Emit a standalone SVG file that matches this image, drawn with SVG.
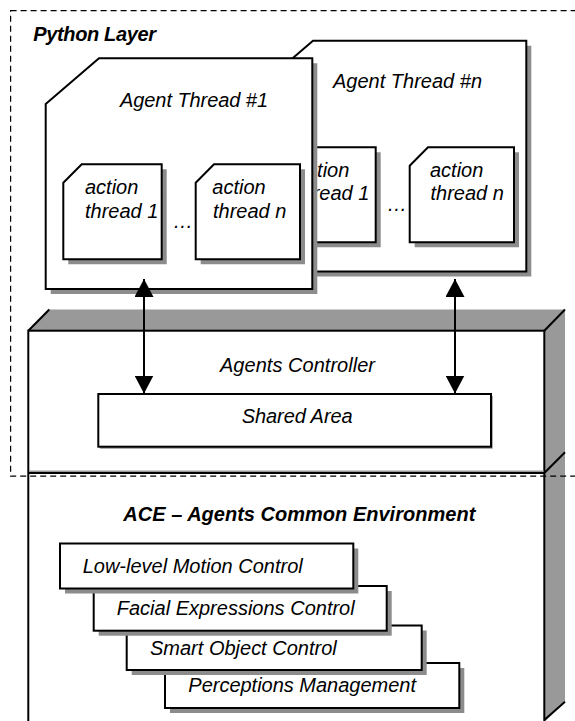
<svg xmlns="http://www.w3.org/2000/svg" width="575" height="721" viewBox="0 0 575 721">
<defs>
<style>
text{font-family:"Liberation Sans",Arial,sans-serif;font-style:italic;font-size:20px;fill:#000}
.b{font-weight:bold}
.box{fill:#fff;stroke:#000;stroke-width:2}
.sh{fill:#8c8c8c}
.face{fill:#999}
.edge{stroke:#000;stroke-width:2;fill:none}
.conn{stroke:#000;stroke-width:2;fill:none}
.dash{fill:none;stroke:#000;stroke-width:1.2;stroke-dasharray:6 4}
</style>
<marker id="ah" viewBox="0 0 18 19" refX="18" refY="9.5" markerWidth="18" markerHeight="19" markerUnits="userSpaceOnUse" orient="auto-start-reverse">
<path d="M0,0 L18,9.5 L0,19 Z" fill="#000"/>
</marker>
</defs>
<rect width="575" height="721" fill="#fff"/>

<g id="agents-controller">
<polygon class="face" points="28.3,330.7 49.3,309.5 565,309.5 565,702 544.3,722 544.3,330.7"/>
<rect class="box" x="28.3" y="330.7" width="516" height="400"/>
<line class="edge" x1="28.3" y1="330.7" x2="49.3" y2="309.5"/>
<line class="edge" x1="544.3" y1="330.7" x2="565" y2="309.5"/>
<line class="edge" x1="544.3" y1="473" x2="565" y2="452.3"/>
<line class="edge" x1="544.3" y1="720" x2="565" y2="701.7"/>
<line x1="29" y1="471.3" x2="543.5" y2="471.3" stroke="#999" stroke-width="1.5"/>
<line class="edge" x1="28.3" y1="473" x2="544.3" y2="473"/>
<text x="220" y="371.7" textLength="155">Agents Controller</text>
</g>

<g id="shared-area">
<rect class="sh" x="100" y="396" width="392.7" height="52.7"/>
<rect class="box" x="98.3" y="394" width="392.7" height="52.7"/>
<text x="241.7" y="423.3" textLength="111">Shared Area</text>
</g>

<g id="ace">
<text class="b" x="123.3" y="520.7" textLength="352">ACE – Agents Common Environment</text>
</g>

<g id="perceptions-management">
<rect class="sh" x="170" y="668" width="294.3" height="45"/>
<rect class="box" x="165" y="663" width="294.3" height="45"/>
<text x="188.3" y="692.3" textLength="227.7">Perceptions Management</text>
</g>
<g id="smart-object-control">
<rect class="sh" x="131.7" y="630.5" width="295" height="44.5"/>
<rect class="box" x="126.7" y="625.5" width="295" height="44.5"/>
<text x="150" y="655" textLength="186.7">Smart Object Control</text>
</g>
<g id="facial-expressions-control">
<rect class="sh" x="98.7" y="591" width="293" height="44.7"/>
<rect class="box" x="93.7" y="586" width="293" height="44.7"/>
<text x="116.7" y="615" textLength="238">Facial Expressions Control</text>
</g>
<g id="low-level-motion-control">
<rect class="sh" x="65" y="548.5" width="293.3" height="45"/>
<rect class="box" x="60" y="543.5" width="293.3" height="45"/>
<text x="82.7" y="573.3" textLength="220">Low-level Motion Control</text>
</g>

<g id="agent-thread-n">
<polygon class="sh" points="264.7,91.4 318,45.7 531.3,45.7 531.3,276.4 264.7,276.4"/>
<polygon class="box" points="259.7,86.4 313,40.7 526.3,40.7 526.3,271.4 259.7,271.4"/>
<text x="333" y="87.7" textLength="149">Agent Thread #n</text>
<g id="agent-n-action-1">
<polygon class="sh" points="282.3,170.7 300.7,152.3 380.7,152.3 380.7,247.3 282.3,247.3"/>
<polygon class="box" points="277.3,165.7 295.7,147.3 375.7,147.3 375.7,242.3 277.3,242.3"/>
<text x="296" y="176.7">action</text>
<text x="296" y="199.5">thread 1</text>
</g>
<text x="387" y="211" font-size="18">…</text>
<g id="agent-n-action-n">
<polygon class="sh" points="414.7,170.7 433,152.3 519,152.3 519,247.3 414.7,247.3"/>
<polygon class="box" points="409.7,165.7 428,147.3 514,147.3 514,242.3 409.7,242.3"/>
<text x="430" y="176.7">action</text>
<text x="430.5" y="199.5">thread n</text>
</g>
</g>

<g id="agent-thread-1">
<polygon class="sh" points="50.7,109 104,63.3 317.3,63.3 317.3,294 50.7,294"/>
<polygon class="box" points="45.7,104 99,58.3 312.3,58.3 312.3,289 45.7,289"/>
<text x="120" y="106.7" textLength="148">Agent Thread #1</text>
<g id="agent-1-action-1">
<polygon class="sh" points="68.3,187.7 86.7,169.3 166.7,169.3 166.7,264.3 68.3,264.3"/>
<polygon class="box" points="63.3,182.7 81.7,164.3 161.7,164.3 161.7,259.3 63.3,259.3"/>
<text x="85" y="194.3">action</text>
<text x="85" y="217.5">thread 1</text>
</g>
<text x="173" y="228" font-size="18">…</text>
<g id="agent-1-action-n">
<polygon class="sh" points="200.7,187.7 219,169.3 305,169.3 305,264.3 200.7,264.3"/>
<polygon class="box" points="195.7,182.7 214,164.3 300,164.3 300,259.3 195.7,259.3"/>
<text x="212.3" y="194.3">action</text>
<text x="213" y="217.5">thread n</text>
</g>
</g>

<g id="connectors">
<line class="conn" x1="144" y1="279" x2="144" y2="393.5" marker-start="url(#ah)" marker-end="url(#ah)"/>
<line class="conn" x1="455" y1="279" x2="455" y2="393.5" marker-start="url(#ah)" marker-end="url(#ah)"/>
</g>

<g id="python-layer">
<rect class="dash" x="10.6" y="10.6" width="600" height="465.6"/>
<text class="b" x="33.3" y="41" font-size="19.5" textLength="122.7">Python Layer</text>
</g>
</svg>
